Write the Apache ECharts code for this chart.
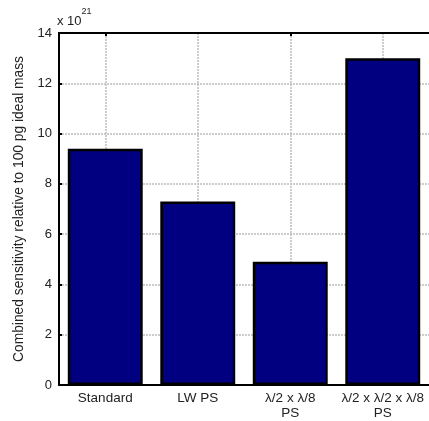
<!DOCTYPE html>
<html><head><meta charset="utf-8">
<script src="https://cdn.jsdelivr.net/npm/echarts@6/dist/echarts.min.js"></script>
<style>html,body{margin:0;padding:0;background:#fff}#c{width:429px;height:421px}</style>
</head><body><div id="c"></div>
<script>
const categories = ['Standard', 'LW PS', 'λ/2 x λ/8\nPS', 'λ/2 x λ/2 x λ/8\nPS'];
const values = [9.4, 7.3, 4.9, 13.0];
const yTicks = {min: 0, max: 14, interval: 2};
const yName = 'Combined sensitivity relative to 100 pg ideal mass';
const font = 'Liberation Sans, Arial, sans-serif';
const chart = echarts.init(document.getElementById('c'), null, {renderer: 'canvas'});
chart.setOption({
  animation: false,
  backgroundColor: '#fff',
  grid: {left: 59, top: 33, width: 376, height: 354, show: false},
  xAxis: [{
    type: 'category', data: categories, position: 'bottom',
    axisLine: {lineStyle: {color: '#000', width: 2}},
    axisTick: {show: false},
    axisLabel: {color: '#222', fontFamily: font, fontSize: 13.5, margin: 6, lineHeight: 15, interval: 0},
    splitLine: {show: true, alignWithLabel: true, lineStyle: {color: '#bdbdbd', type: [2, 1], width: 1.5}}
  }, {
    type: 'category', data: categories, position: 'top',
    axisLine: {show: true, lineStyle: {color: '#000', width: 2}},
    axisTick: {show: true, inside: true, alignWithLabel: true, length: 3, lineStyle: {color: '#000', width: 2}},
    axisLabel: {show: false}, splitLine: {show: false}
  }],
  yAxis: {
    type: 'value', min: yTicks.min, max: yTicks.max, interval: yTicks.interval,
    name: yName, nameLocation: 'middle', nameRotate: 90, nameGap: 31,
    nameTextStyle: {color: '#222', fontFamily: font, fontSize: 13.8},
    axisLine: {show: true, lineStyle: {color: '#000', width: 2}},
    axisTick: {show: true, inside: true, length: 3, lineStyle: {color: '#000', width: 2}},
    axisLabel: {color: '#222', fontFamily: font, fontSize: 13, margin: 7},
    splitLine: {show: true, lineStyle: {color: '#bdbdbd', type: [2, 1], width: 1.5}}
  },
  graphic: [{
    type: 'text', left: 57, top: 7,
    style: {
      text: '{a|x 10}{b|21}', fontFamily: font,
      rich: {
        a: {fontSize: 13, fill: '#222', fontFamily: font, padding: [8, 0, 0, 0]},
        b: {fontSize: 9, fill: '#222', fontFamily: font, verticalAlign: 'top'}
      }
    }
  }],
  series: [{
    type: 'bar', data: values, barWidth: '81%', xAxisIndex: 0,
    itemStyle: {color: '#000080', borderColor: '#000', borderWidth: 2.5}
  }]
});
</script></body></html>
